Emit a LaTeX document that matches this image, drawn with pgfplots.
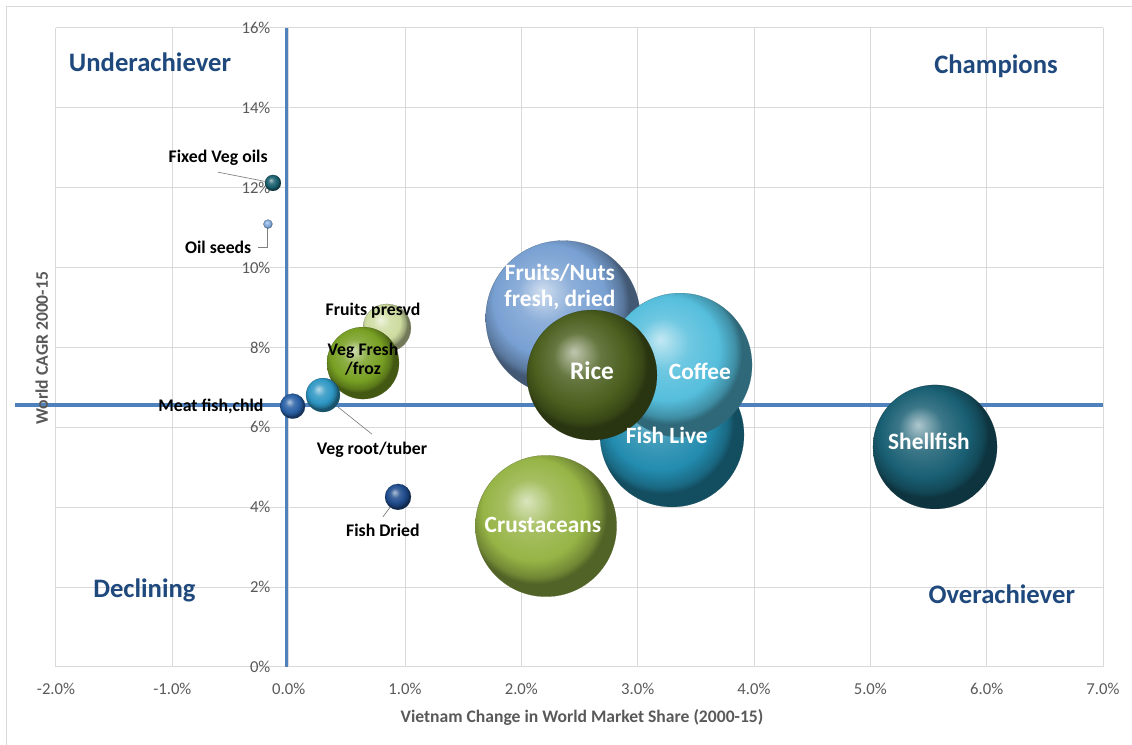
\documentclass[border=0pt]{standalone}
\usepackage{pgfplots}
\pgfplotsset{compat=1.18}
\usepackage{fontspec}
\setmainfont{Carlito}
\definecolor{quad}{RGB}{31,73,125}
\definecolor{tickgray}{RGB}{89,89,89}
\definecolor{gridgray}{RGB}{217,217,217}
\definecolor{qline}{RGB}{79,129,189}
\definecolor{cFixed}{RGB}{25,95,110}
\definecolor{cOil}{RGB}{130,170,220}
\definecolor{cFpres}{RGB}{205,220,160}
\definecolor{cVegF}{RGB}{120,160,35}
\definecolor{cMeat}{RGB}{40,95,165}
\definecolor{cVegR}{RGB}{45,150,195}
\definecolor{cFishD}{RGB}{30,75,140}
\definecolor{cFruit}{RGB}{120,160,210}
\definecolor{cRice}{RGB}{75,95,30}
\definecolor{cCoffee}{RGB}{85,190,220}
\definecolor{cFishL}{RGB}{35,140,175}
\definecolor{cCrust}{RGB}{150,180,70}
\definecolor{cShell}{RGB}{25,95,115}
\makeatletter
\pgfdeclareradialshading[tikz@ball]{ball}{\pgfqpoint{-7bp}{9bp}}{%
 color(0bp)=(tikz@ball!35!white);
 color(9bp)=(tikz@ball!85!white);
 color(18bp)=(tikz@ball);
 color(23bp)=(tikz@ball!75!black);
 color(25bp)=(tikz@ball!55!black);
 color(50bp)=(tikz@ball!55!black)}
\makeatother
\tikzset{
 qlab/.style={font=\fontsize{20}{22}\selectfont\bfseries, text=quad},
 blab/.style={font=\fontsize{13.3}{14.5}\selectfont\bfseries, text=black, align=center, inner sep=0pt},
 wlab/.style={font=\fontsize{17.5}{19.5}\selectfont\bfseries, text=white, align=center, inner sep=0pt},
}
\pgfplotsset{
 bub/.style={only marks, mark=ball, color=#1!55!black, line width=0.1pt,
   mark options={ball color=#1, line width=0.1pt}},
}
\begin{document}
\begin{tikzpicture}
\useasboundingbox (-42pt,-58.5pt) rectangle (807pt,500.25pt);
\draw[gridgray, line width=0.75pt] (-36.75pt,-60pt) -- (-36.75pt,495pt) -- (810pt,495pt);
\begin{axis}[
 at={(0,0)}, anchor=south west,
 scale only axis, width=785.25pt, height=479.25pt,
 xmin=-2, xmax=7, ymin=0, ymax=16,
 xtick={-2,-1,0,1,2,3,4,5,6,7},
 ytick={0,2,4,6,8,10,12,14,16},
 xticklabels={-2.0\%,-1.0\%,0.0\%,1.0\%,2.0\%,3.0\%,4.0\%,5.0\%,6.0\%,7.0\%},
 yticklabels={0\%,2\%,4\%,6\%,8\%,10\%,12\%,14\%,16\%},
 grid=major, major grid style={gridgray, line width=0.75pt},
 axis line style={draw=none}, major tick length=0pt,
 tick label style={font=\fontsize{12.5}{13}\selectfont, text=tickgray, inner sep=0pt},
 xticklabel style={anchor=base, yshift=-21pt},
 yticklabel style={anchor=east, xshift=161pt},
 clip=false,
 xlabel={Vietnam Change in World Market Share (2000-15)},
 ylabel={World CAGR 2000-15},
 xlabel style={at={(axis description cs:0.5024,-0.0782)}, anchor=center, font=\fontsize{13.2}{14}\selectfont\bfseries, text=tickgray},
 ylabel style={at={(axis description cs:-0.0137,0.499)}, anchor=center, font=\fontsize{13.2}{14}\selectfont\bfseries, text=tickgray},
 lbl/.style={only marks, mark=none, nodes near coords, point meta=explicit symbolic,
   every node near coord/.style={anchor=center, #1}},
]
% bubbles (x, y; mark size = bubble radius in pt)
\addplot[bub=cFruit, mark size=58pt] coordinates {(2.358,8.74)};
\addplot[bub=cFishL, mark size=54pt] coordinates {(3.295,5.81)};
\addplot[bub=cCoffee, mark size=54pt] coordinates {(3.364,7.56)};
\addplot[bub=cRice, mark size=48.75pt] coordinates {(2.607,7.31)};
\addplot[bub=cCrust, mark size=53pt] coordinates {(2.212,3.53)};
\addplot[bub=cShell, mark size=46.5pt] coordinates {(5.556,5.51)};
\addplot[bub=cFpres, mark size=18pt] coordinates {(0.845,8.49)};
\addplot[bub=cVegF, mark size=27pt] coordinates {(0.639,7.61)};
\addplot[bub=cVegR, mark size=12.75pt] coordinates {(0.295,6.81)};
\addplot[bub=cMeat, mark size=9.4pt] coordinates {(0.034,6.53)};
\addplot[bub=cFishD, mark size=9.75pt] coordinates {(0.94,4.26)};
\addplot[bub=cFixed, mark size=6pt] coordinates {(-0.135,12.12)};
\addplot[bub=cOil, mark size=3.4pt] coordinates {(-0.178,11.09)};
% leader lines
\addplot[gray, line width=0.5pt, mark=none] coordinates {(-0.608,12.39) (-0.135,12.12)};
\addplot[gray, line width=0.5pt, mark=none] coordinates {(-0.264,10.52) (-0.187,10.52) (-0.187,11.0)};
\addplot[gray, line width=0.5pt, mark=none] coordinates {(0.295,6.81) (0.716,5.83)};
\addplot[gray, line width=0.5pt, mark=none] coordinates {(0.939,4.26) (0.81,3.76)};
% quadrant labels
\addplot[lbl=qlab] coordinates {(-1.192,15.15) [Underachiever] (6.08,15.05) [Champions] (-1.24,1.93) [Declining] (6.13,1.83) [Overachiever]};
% bubble labels
\addplot[lbl=blab] coordinates {(-0.606,12.74) [Fixed Veg oils] (-0.606,10.52) [Oil seeds] (0.725,8.91) [Fruits presvd] (0.639,7.71) [Veg Fresh\\/froz] (-0.668,6.53) [Meat fish,chld] (0.716,5.43) [Veg root/tuber] (0.81,3.41) [Fish Dried]};
\addplot[lbl=wlab] coordinates {(2.332,9.51) [Fruits/Nuts\\fresh, dried] (3.535,7.41) [Coffee] (3.25,5.81) [Fish Live] (2.186,3.56) [Crustaceans] (5.504,5.66) [Shellfish]};
\addplot[lbl={wlab, font=\fontsize{19}{21}\selectfont\bfseries}] coordinates {(2.607,7.41) [Rice]};
% quadrant divider lines
\addplot[qline, line width=2.7pt, mark=none] coordinates {(-0.02,0) (-0.02,16)};
\addplot[qline, line width=2.5pt, mark=none] coordinates {(-2.35,6.56) (7.0,6.56)};
\end{axis}
\end{tikzpicture}
\end{document}
